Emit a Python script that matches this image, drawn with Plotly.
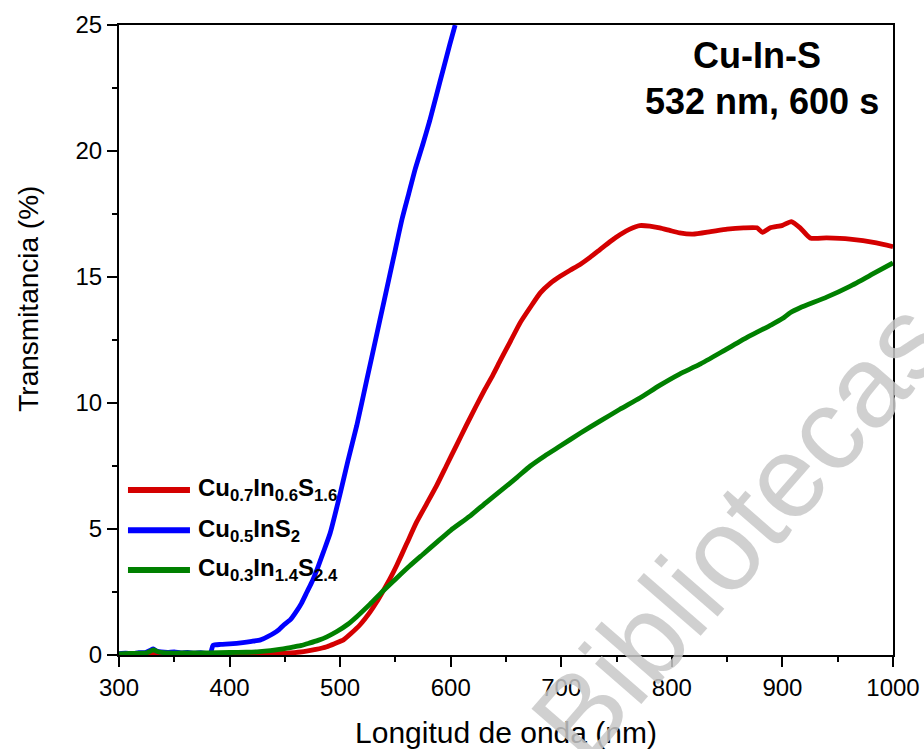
import plotly.graph_objects as go

# Transmittance spectra of Cu-In-S films (532 nm, 600 s)
wl_a = [300, 310, 320, 326, 331, 336, 345, 355, 365, 375, 383, 441, 455, 467, 478, 488, 495, 503,
        510, 518, 527, 533, 539, 545, 551, 560, 569, 578, 587, 596, 605, 614, 623, 631, 638, 645,
        654, 663, 672, 681, 690, 699, 708, 717, 726, 735, 744, 753, 762, 771, 780, 789, 798, 807,
        819, 835, 850, 865, 877, 882, 889, 900, 908, 916, 925, 940, 961, 985, 1000]
tr_a = [0.02, 0.02, 0.03, 0.03, 0.04, 0.03, 0.03, 0.03, 0.03, 0.03, 0.03, 0.05, 0.08, 0.13, 0.22,
        0.33, 0.45, 0.6, 0.86, 1.2, 1.7, 2.1, 2.55, 3.02, 3.54, 4.4, 5.26, 5.98, 6.7, 7.5, 8.3,
        9.1, 9.88, 10.55, 11.1, 11.7, 12.45, 13.2, 13.8, 14.37, 14.75, 15.03, 15.27, 15.5, 15.78,
        16.09, 16.4, 16.68, 16.9, 17.04, 17.02, 16.95, 16.85, 16.75, 16.7, 16.8, 16.9, 16.95,
        16.95, 16.77, 16.95, 17.05, 17.2, 16.95, 16.55, 16.55, 16.5, 16.35, 16.2]

wl_b = [300, 306, 312, 318, 324, 328, 331, 334, 338, 344, 350, 356, 362, 368, 374, 380, 383, 385,
        392, 400, 412, 420, 428, 434, 440, 445, 449, 455, 460, 465, 470, 475, 480, 485, 491, 500,
        507, 515, 524, 532, 540, 548, 556, 562, 568, 575, 581, 587, 593, 599, 604]
tr_b = [0.05, 0.07, 0.05, 0.09, 0.1, 0.18, 0.24, 0.16, 0.12, 0.1, 0.12, 0.08, 0.1, 0.07, 0.09,
        0.06, 0.1, 0.38, 0.42, 0.44, 0.49, 0.54, 0.6, 0.72, 0.86, 1.02, 1.19, 1.4, 1.7, 2.05, 2.5,
        2.95, 3.5, 4.1, 4.84, 6.4, 7.7, 9.1, 10.9, 12.5, 14.1, 15.7, 17.3, 18.3, 19.3, 20.3, 21.2,
        22.2, 23.2, 24.2, 25.0]

wl_c = [300, 310, 320, 326, 331, 336, 345, 360, 380, 400, 415, 427, 437, 445, 452, 458, 465, 472,
        480, 488, 497, 507, 515, 527, 539, 551, 563, 575, 587, 600, 617, 632, 647, 660, 672, 685,
        699, 717, 735, 753, 771, 789, 807, 825, 848, 870, 890, 900, 907, 916, 940, 961, 980, 1000]
tr_c = [0.04, 0.06, 0.07, 0.1, 0.2, 0.12, 0.08, 0.08, 0.08, 0.1, 0.11, 0.13, 0.17, 0.22, 0.27,
        0.32, 0.38, 0.47, 0.58, 0.72, 0.93, 1.22, 1.52, 2.02, 2.55, 3.05, 3.54, 4.0, 4.46, 4.95,
        5.5, 6.05, 6.58, 7.05, 7.5, 7.9, 8.29, 8.8, 9.28, 9.75, 10.2, 10.7, 11.15, 11.53, 12.1,
        12.65, 13.1, 13.35, 13.58, 13.78, 14.2, 14.63, 15.08, 15.56]

names = ["Cu<sub>0.7</sub>In<sub>0.6</sub>S<sub>1.6</sub>",
         "Cu<sub>0.5</sub>InS<sub>2</sub>",
         "Cu<sub>0.3</sub>In<sub>1.4</sub>S<sub>2.4</sub>"]
colors = ["#d40000", "#0000ff", "#008000"]
series = [(wl_a, tr_a), (wl_b, tr_b), (wl_c, tr_c)]

FONT = "Liberation Sans, Arial, sans-serif"

fig = go.Figure()

# library watermark, placed first so it sits under the other annotations
fig.add_annotation(xref="paper", yref="paper", x=0.802, y=0.198, xanchor="center", yanchor="middle",
                   text="Bibliotecas", showarrow=False, textangle=-49,
                   font=dict(family=FONT, size=116, color="rgba(200,200,200,0.85)"))

for (x, y), nm, col in zip(series, names, colors):
    fig.add_trace(go.Scatter(x=x, y=y, mode="lines", name=nm,
                             line=dict(color=col, width=4.8, shape="spline", smoothing=0.5),
                             showlegend=False))

axis_common = dict(showline=True, linecolor="black", linewidth=2, mirror=True,
                   ticks="outside", ticklen=10, tickwidth=2, tickcolor="black",
                   showgrid=False, zeroline=False, automargin=False,
                   tickfont=dict(family=FONT, size=24, color="black"))

fig.update_xaxes(range=[300, 1000], dtick=100, tick0=300,
                 minor=dict(dtick=50, ticklen=5, tickwidth=2, ticks="outside", tickcolor="black"),
                 title=dict(text="Longitud de onda (nm)", font=dict(family=FONT, size=30, color="black"),
                            standoff=22),
                 **axis_common)
fig.update_yaxes(range=[0, 25], dtick=5,
                 minor=dict(dtick=2.5, ticklen=5, tickwidth=2, ticks="outside", tickcolor="black"),
                 **axis_common)

# y-axis title
fig.add_annotation(xref="paper", yref="paper", x=-0.118, y=0.565, xanchor="center", yanchor="middle",
                   text="Transmitancia (%)", showarrow=False, textangle=-90,
                   font=dict(family=FONT, size=28, color="black"))

# legend drawn inside the plot area (paper coordinates)
leg_y = [0.262, 0.198, 0.135]
for nm, col, yy in zip(names, colors, leg_y):
    fig.add_shape(type="line", xref="paper", yref="paper", x0=0.0116, x1=0.0917, y0=yy, y1=yy,
                  line=dict(color=col, width=6))
    fig.add_annotation(xref="paper", yref="paper", x=0.0995, y=yy, xanchor="left", yanchor="middle",
                       text="<b>" + nm + "</b>", showarrow=False,
                       font=dict(family=FONT, size=24, color="black"))

fig.add_annotation(xref="paper", yref="paper", x=0.824, y=0.952, xanchor="center", yanchor="middle",
                   text="<b>Cu-In-S</b>", showarrow=False,
                   font=dict(family=FONT, size=36, color="black"))
fig.add_annotation(xref="paper", yref="paper", x=0.831, y=0.878, xanchor="center", yanchor="middle",
                   text="<b>532 nm, 600 s</b>", showarrow=False,
                   font=dict(family=FONT, size=36, color="black"))

fig.update_layout(width=924, height=749, margin=dict(l=119, r=31, t=25, b=94),
                  plot_bgcolor="white", paper_bgcolor="white", showlegend=False)

fig.write_html("out.html")
